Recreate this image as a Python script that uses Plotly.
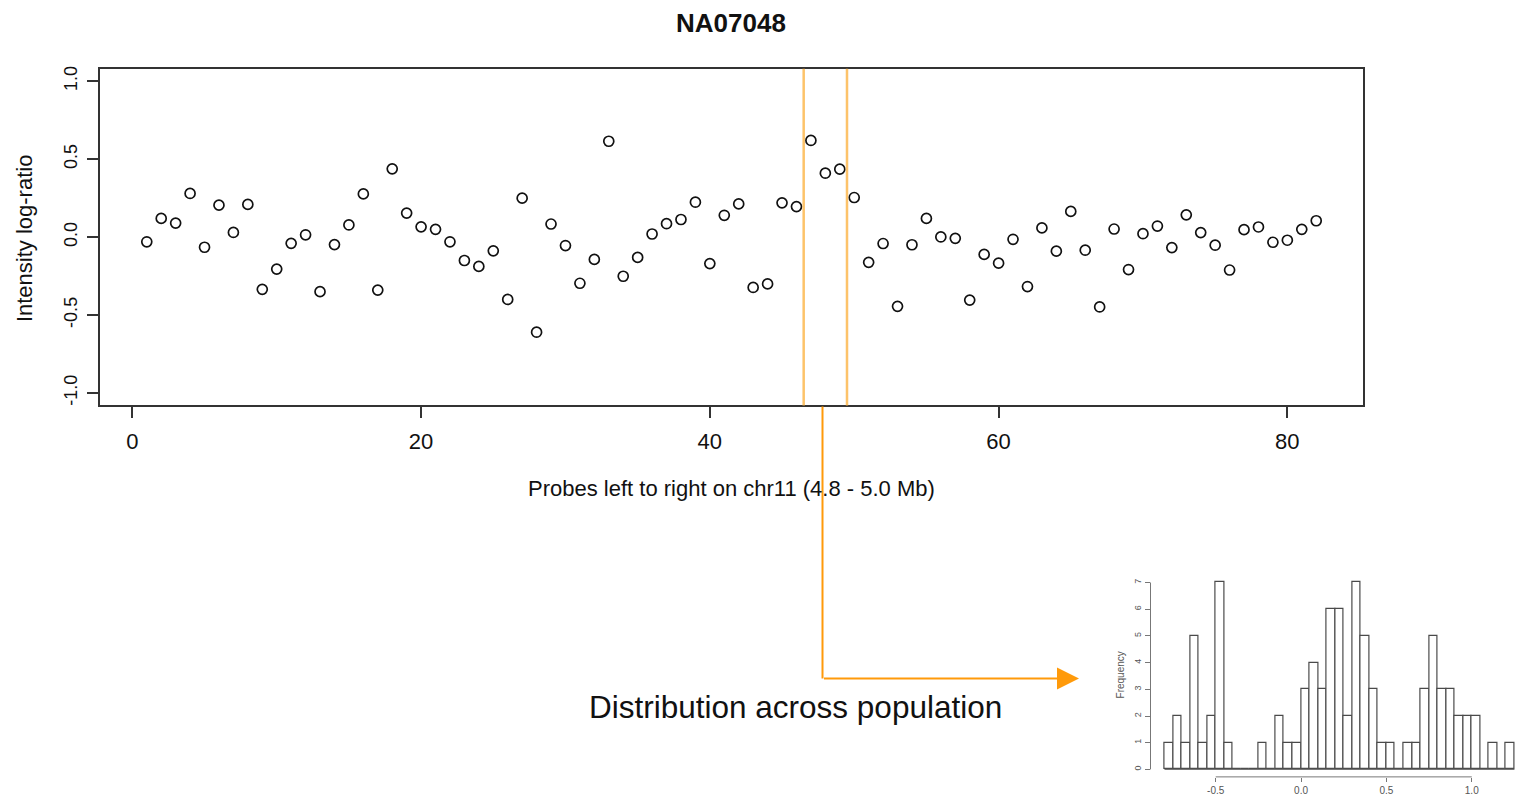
import plotly.graph_objects as go

W, H = 1517, 798

# ---------------- data ----------------
probe_index = list(range(1, 83))
log_ratio = [
    -0.03, 0.12, 0.09, 0.28, -0.065, 0.205, 0.03, 0.21, -0.335, -0.205,
    -0.04, 0.015, -0.35, -0.048, 0.078, 0.277, -0.34, 0.438, 0.154, 0.066,
    0.05, -0.03, -0.15, -0.188, -0.088, -0.40, 0.25, -0.61, 0.084, -0.054,
    -0.296, -0.143, 0.615, -0.251, -0.13, 0.02, 0.086, 0.113, 0.224, -0.17,
    0.14, 0.213, -0.323, -0.30, 0.22, 0.196, 0.62, 0.41, 0.436, 0.254,
    -0.162, -0.041, -0.444, -0.049, 0.12, 0.001, -0.008, -0.404, -0.111, -0.167,
    -0.014, -0.317, 0.059, -0.09, 0.165, -0.084, -0.448, 0.052, -0.208, 0.022,
    0.071, -0.067, 0.143, 0.029, -0.052, -0.211, 0.048, 0.065, -0.033, -0.02,
    0.05, 0.105,
]
x_ticks = [0, 20, 40, 60, 80]
y_ticks = [-1.0, -0.5, 0.0, 0.5, 1.0]
y_tick_text = ["-1.0", "-0.5", "0.0", "0.5", "1.0"]
highlight_bounds = [46.5, 49.5]

# population histogram (bins of 0.05 starting at -0.80)
bin_width = 0.05
bin_left = [round(-0.80 + i * bin_width, 2) for i in range(41)]
bin_counts = [1, 2, 1, 5, 1, 2, 7, 1, 0, 0, 0, 1, 0, 2, 1, 1, 3, 4, 3, 6, 6,
              2, 7, 5, 3, 1, 1, 0, 1, 1, 3, 5, 3, 3, 2, 2, 2, 0, 1, 0, 1]
hist_x_ticks = [-0.5, 0.0, 0.5, 1.0]
hist_x_text = ["-0.5", "0.0", "0.5", "1.0"]
hist_y_ticks = [0, 1, 2, 3, 4, 5, 6, 7]

FONT = "Liberation Sans, Arial, Helvetica, sans-serif"


def px(x):
    return x / W


def py(y):
    return 1 - y / H


fig = go.Figure()

# main scatter
fig.add_trace(go.Scatter(
    x=probe_index, y=log_ratio, mode="markers",
    marker=dict(symbol="circle-open", size=10, color="#111",
                line=dict(width=1.7, color="#111")),
    xaxis="x", yaxis="y", hoverinfo="x+y", showlegend=False,
))

# histogram bars
fig.add_trace(go.Bar(
    x=[b + bin_width / 2 for b in bin_left], y=bin_counts, width=bin_width,
    marker=dict(color="white", line=dict(color="#4a4a4a", width=1.2)),
    xaxis="x2", yaxis="y2", showlegend=False,
))
# baseline for empty bins
fig.add_trace(go.Scatter(
    x=[bin_left[0], bin_left[-1] + bin_width], y=[0, 0], mode="lines",
    line=dict(color="#666", width=1), xaxis="x2", yaxis="y2",
    showlegend=False, hoverinfo="skip",
))

axis_common = dict(showgrid=False, zeroline=False, ticks="outside")

fig.update_layout(
    width=W, height=H,
    margin=dict(l=0, r=0, t=0, b=0),
    paper_bgcolor="white", plot_bgcolor="white",
    font=dict(family=FONT, color="#111"),
    xaxis=dict(
        **axis_common, domain=[px(100), px(1363)], range=[-2.24, 85.24],
        tickvals=x_ticks, ticklen=11, tickwidth=1.5, tickcolor="#333",
        showline=True, mirror=True, linecolor="#333", linewidth=1.5,
        tickfont=dict(size=22, color="#111"), ticklabelstandoff=4,
        anchor="y",
    ),
    yaxis=dict(
        **axis_common, domain=[py(404), py(66)], range=[-1.08, 1.08],
        tickvals=y_ticks, ticktext=y_tick_text, tickangle=-90,
        ticklen=11, tickwidth=1.5, tickcolor="#333",
        showline=True, mirror=True, linecolor="#333", linewidth=1.5,
        tickfont=dict(size=18, color="#111"), ticklabelstandoff=3,
        anchor="x",
    ),
    xaxis2=dict(
        **axis_common, domain=[px(1150.5), 1.0], range=[-0.882, 1.265],
        tickvals=hist_x_ticks, ticktext=hist_x_text, ticklen=4,
        tickwidth=1, tickcolor="#777", showline=False,
        tickfont=dict(size=10, color="#555"), anchor="y2",
    ),
    yaxis2=dict(
        **axis_common, domain=[py(776.8), py(574.2)], range=[-0.28, 7.28],
        tickvals=hist_y_ticks, tickangle=-90, ticklen=5, tickwidth=1,
        tickcolor="#777", showline=False,
        tickfont=dict(size=9, color="#555"), anchor="x2",
    ),
    bargap=0,
)

shapes = []
# highlighted region boundaries
for xb in highlight_bounds:
    shapes.append(dict(type="line", xref="x", yref="y domain", x0=xb, x1=xb,
                       y0=0, y1=1, line=dict(color="rgba(253,185,80,0.85)", width=2.5)))
# histogram axis lines (R style, spanning first to last tick)
shapes.append(dict(type="line", xref="x2", yref="y2 domain",
                   x0=hist_x_ticks[0], x1=hist_x_ticks[-1], y0=0, y1=0,
                   line=dict(color="#777", width=1)))
shapes.append(dict(type="line", xref="x2 domain", yref="y2",
                   x0=0, x1=0, y0=hist_y_ticks[0], y1=hist_y_ticks[-1],
                   line=dict(color="#777", width=1)))
# callout connector (vertical part)
shapes.append(dict(type="line", xref="paper", yref="paper",
                   x0=px(822.5), x1=px(822.5), y0=py(405), y1=py(678),
                   line=dict(color="#FF9A0A", width=2)))
fig.update_layout(shapes=shapes)

annotations = [
    dict(text="<b>NA07048</b>", x=px(731), y=py(20), xref="paper", yref="paper",
         showarrow=False, font=dict(size=26, color="#111"),
         xanchor="center", yanchor="middle"),
    dict(text="Probes left to right on chr11 (4.8 - 5.0 Mb)", x=px(731), y=py(487),
         xref="paper", yref="paper", showarrow=False,
         font=dict(size=22, color="#111"), xanchor="center", yanchor="middle"),
    dict(text="Intensity log-ratio", x=px(24), y=py(236), xref="paper", yref="paper",
         showarrow=False, textangle=-90, font=dict(size=22, color="#111"),
         xanchor="center", yanchor="middle"),
    dict(text="Distribution across population", x=px(795), y=py(707),
         xref="paper", yref="paper", showarrow=False,
         font=dict(size=31.5, color="#111"), xanchor="center", yanchor="middle"),
    dict(text="Frequency", x=px(1120), y=py(675), xref="paper", yref="paper",
         showarrow=False, textangle=-90, font=dict(size=10, color="#555"),
         xanchor="center", yanchor="middle"),
    # callout arrow (horizontal part with head)
    dict(text="", x=px(1079), y=py(678), xref="paper", yref="paper",
         ax=-(1079 - 822.5), ay=0, axref="pixel", ayref="pixel",
         showarrow=True, arrowhead=2, arrowsize=2.2, arrowwidth=2,
         arrowcolor="#FF9A0A", standoff=0),
]
fig.update_layout(annotations=annotations)

fig.write_html("out.html")
